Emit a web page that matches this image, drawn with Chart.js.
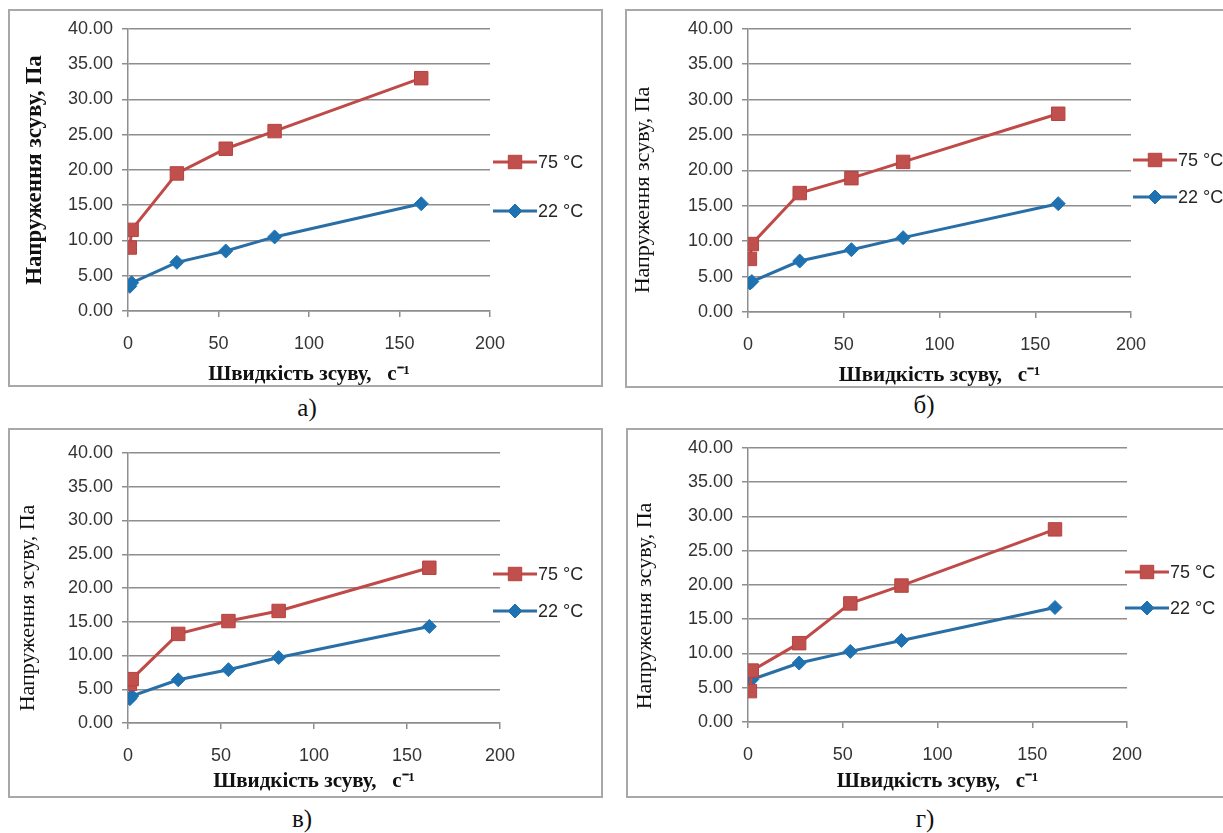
<!DOCTYPE html>
<html>
<head>
<meta charset="utf-8">
<script src="https://cdn.jsdelivr.net/npm/chart.js@4.4.1/dist/chart.umd.min.js"></script>
<style>
    body { margin: 0; width: 1223px; height: 833px; overflow: hidden; background: #fff; position: relative; }
    .box { position: absolute; border: 2px solid #a8a8a8; box-sizing: border-box; }
    canvas { position: absolute; }
    .cap { position: absolute; font-family: "Liberation Serif", serif; font-size: 25px; color: #111; transform: translate(-50%, -50%); }
</style>
</head>
<body>
<script>
// shear rate, 1/s
var shearRate = [1, 2, 27, 54, 81, 162];
var xTicks = [0, 50, 100, 150, 200];
var yTicks = [0, 5, 10, 15, 20, 25, 30, 35, 40];
var seriesNames = ['75 °C', '22 °C'];
var captions = ['а)', 'б)', 'в)', 'г)'];

// shear stress, Pa
var hotA = [9.0, 11.5, 19.5, 23.0, 25.5, 33.0];
var coldA = [3.5, 4.0, 6.9, 8.5, 10.5, 15.2];
var hotB = [7.5, 9.6, 16.8, 18.9, 21.2, 28.0];
var coldB = [4.1, 4.3, 7.2, 8.8, 10.5, 15.3];
var hotC = [5.8, 6.5, 13.2, 15.1, 16.6, 23.0];
var coldC = [3.6, 4.0, 6.4, 7.9, 9.7, 14.3];
var hotD = [4.5, 7.5, 11.5, 17.3, 19.9, 28.1];
var coldD = [5.1, 6.2, 8.6, 10.3, 11.9, 16.7];

var xTitle = 'Швидкість зсуву,   с⁻¹';
var yTitle = 'Напруження зсуву, Па';

var RED = '#c0504d';
var RED_LINE = '#bf4a47';
var BLUE = '#1f72b2';
var BLUE_LINE = '#2a6ea6';
var GRID = '#8e8e8e';

var panels = [
    { hot: hotA, cold: coldA, cap: captions[0], capX: 307, capY: 408, bold: true,
      box: { x: 8, y: 9, w: 595, h: 378 }, area: { l: 128, r: 490, t: 28, b: 311 },
      legX: 493, legY: [162, 211], yTitleX: 35, yTitleY: 170, xTitlePad: 0 },
    { hot: hotB, cold: coldB, cap: captions[1], capX: 924, capY: 405, bold: false,
      box: { x: 625, y: 9, w: 610, h: 379 }, area: { l: 748, r: 1131, t: 26, b: 312 },
      legX: 1133, legY: [160, 197], yTitleX: 643, yTitleY: 190, xTitlePad: 0 },
    { hot: hotC, cold: coldC, cap: captions[2], capX: 302, capY: 819, bold: false,
      box: { x: 8, y: 428, w: 595, h: 370 }, area: { l: 128, r: 500, t: 453, b: 723 },
      legX: 493, legY: [574, 611], yTitleX: 28, yTitleY: 608, xTitlePad: 4 },
    { hot: hotD, cold: coldD, cap: captions[3], capX: 925, capY: 819, bold: false,
      box: { x: 626, y: 428, w: 610, h: 370 }, area: { l: 748, r: 1127, t: 447, b: 722 },
      legX: 1125, legY: [572, 608], yTitleX: 645, yTitleY: 606, xTitlePad: 4 }
];

function drawMarker(ctx, ds, x, y) {
    var r = ds.pointRadius;
    ctx.fillStyle = ds.pointBackgroundColor;
    ctx.strokeStyle = ds.pointBorderColor;
    ctx.lineWidth = ds.pointBorderWidth;
    ctx.beginPath();
    if (ds.pointStyle === 'rect') {
        var s = r * Math.SQRT1_2;
        ctx.rect(x - s, y - s, 2 * s, 2 * s);
    } else {
        ctx.moveTo(x, y - r);
        ctx.lineTo(x + r, y);
        ctx.lineTo(x, y + r);
        ctx.lineTo(x - r, y);
        ctx.closePath();
    }
    ctx.fill();
    ctx.stroke();
}

// legend on the right + y axis title (placed like the original, not centred on the axis)
var sideLegend = {
    id: 'sideLegend',
    afterDraw: function (chart, args, opts) {
        var ctx = chart.ctx;
        chart.data.datasets.forEach(function (ds, i) {
            var y = opts.ys[i];
            var x0 = opts.x;
            ctx.save();
            ctx.strokeStyle = ds.borderColor;
            ctx.lineWidth = ds.borderWidth;
            ctx.beginPath();
            ctx.moveTo(x0, y);
            ctx.lineTo(x0 + 44, y);
            ctx.stroke();
            drawMarker(ctx, ds, x0 + 22, y);
            ctx.fillStyle = '#262626';
            ctx.font = '18px "Liberation Sans"';
            ctx.textBaseline = 'middle';
            ctx.fillText(ds.label, x0 + 45, y + 1);
            ctx.restore();
        });

        ctx.save();
        ctx.translate(opts.titleX, opts.titleY);
        ctx.rotate(-Math.PI / 2);
        ctx.fillStyle = '#111';
        ctx.font = opts.titleFont;
        ctx.textAlign = 'center';
        ctx.textBaseline = 'middle';
        ctx.fillText(yTitle, 0, 0);
        ctx.restore();
    }
};

function points(vals) {
    return shearRate.map(function (x, i) {
        return { x: x, y: vals[i] };
    });
}

panels.forEach(function (p) {
    var box = document.createElement('div');
    box.className = 'box';
    box.style.left = p.box.x + 'px';
    box.style.top = p.box.y + 'px';
    box.style.width = p.box.w + 'px';
    box.style.height = p.box.h + 'px';
    document.body.appendChild(box);

    var cv = document.createElement('canvas');
    cv.width = p.box.w;
    cv.height = p.box.h;
    cv.style.left = p.box.x + 'px';
    cv.style.top = p.box.y + 'px';
    document.body.appendChild(cv);

    var cap = document.createElement('div');
    cap.className = 'cap';
    cap.textContent = p.cap;
    cap.style.left = p.capX + 'px';
    cap.style.top = p.capY + 'px';
    document.body.appendChild(cap);

    var padL = p.area.l - p.box.x;
    var padT = p.area.t - p.box.y;
    var padR = p.box.x + p.box.w - p.area.r;
    var padB = p.box.y + p.box.h - p.area.b;

    new Chart(cv, {
        type: 'line',
        data: {
            datasets: [
                {
                    label: seriesNames[0],
                    data: points(p.hot),
                    borderColor: RED_LINE,
                    borderWidth: 3,
                    pointStyle: 'rect',
                    pointRadius: 9.5,
                    pointBackgroundColor: RED,
                    pointBorderColor: '#b8423f',
                    pointBorderWidth: 1,
                    tension: 0
                },
                {
                    label: seriesNames[1],
                    data: points(p.cold),
                    borderColor: BLUE_LINE,
                    borderWidth: 3,
                    pointStyle: 'rectRot',
                    pointRadius: 7,
                    pointBackgroundColor: BLUE,
                    pointBorderColor: BLUE,
                    pointBorderWidth: 1,
                    tension: 0
                }
            ]
        },
        options: {
            responsive: false,
            animation: false,
            events: [],
            layout: { padding: { left: 0, top: padT, right: padR, bottom: 0 } },
            plugins: {
                legend: { display: false },
                tooltip: { enabled: false },
                sideLegend: {
                    x: p.legX - p.box.x,
                    ys: [p.legY[0] - p.box.y, p.legY[1] - p.box.y],
                    titleX: p.yTitleX - p.box.x,
                    titleY: p.yTitleY - p.box.y,
                    titleFont: p.bold ? 'bold 23px "Liberation Serif"' : '22px "Liberation Serif"'
                }
            },
            scales: {
                x: {
                    type: 'linear',
                    min: 0,
                    max: 200,
                    afterFit: function (s) { s.height = padB; },
                    afterBuildTicks: function (s) {
                        s.ticks = xTicks.map(function (v) { return { value: v }; });
                    },
                    grid: { drawOnChartArea: false, tickLength: 6, color: GRID, lineWidth: 1.5 },
                    border: { color: GRID, width: 1.5 },
                    ticks: {
                        padding: 16,
                        color: '#333',
                        font: { family: 'Liberation Sans', size: 18 }
                    },
                    title: {
                        display: true,
                        text: xTitle,
                        color: '#111',
                        font: { family: 'Liberation Serif', size: 21, weight: 'bold' },
                        padding: { top: 0, bottom: p.xTitlePad }
                    }
                },
                y: {
                    min: 0,
                    max: 40,
                    afterFit: function (s) { s.width = padL; },
                    afterBuildTicks: function (s) {
                        s.ticks = yTicks.map(function (v) { return { value: v }; });
                    },
                    grid: { color: GRID, lineWidth: 1.5, tickLength: 6 },
                    border: { color: GRID, width: 1.5 },
                    ticks: {
                        padding: 9,
                        color: '#333',
                        font: { family: 'Liberation Sans', size: 18 },
                        callback: function (v) { return v.toFixed(2); }
                    }
                }
            }
        },
        plugins: [sideLegend]
    });
});
</script>
</body>
</html>
